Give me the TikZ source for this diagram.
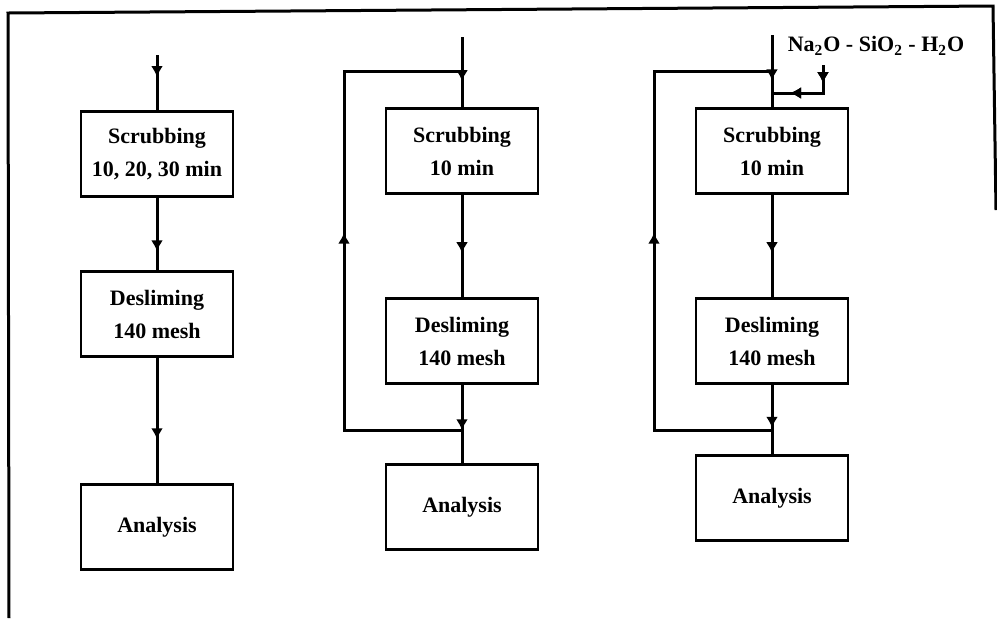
\documentclass[tikz,border=0pt]{standalone}
\usepackage{fontspec}
\setmainfont{Liberation Serif}
\usetikzlibrary{arrows.meta, positioning, decorations.markings}

\begin{document}
\begin{tikzpicture}[
  x=0.5pt, y=-0.5pt,
  every node/.style={font=\bfseries\fontsize{11}{16.5}\selectfont},
  stage/.style={rectangle, draw, line width=1.4pt, minimum width=76pt, minimum height=42.5pt, inner sep=0pt, align=center},
  flow/.style={line width=1.5pt},
  arrowat/.style={postaction={decorate}, decoration={markings, mark=at position #1 with {\arrow{Latex[length=5.5pt,width=6pt]}}}},
]
\useasboundingbox (0,0) rectangle (997,618);

% Frame
\draw[flow] (9,618) -- (8,13) -- (993,6) -- (996,210);

% Column 1
\node[stage] (s1) at (157,154) {Scrubbing\\10, 20, 30 min};
\node[stage] (d1) at (157,314) {Desliming\\140 mesh};
\node[stage] (a1) at (157,527) {Analysis};
\coordinate (f1) at (157,55);
\draw[flow, arrowat=0.4] (f1) -- (s1.north);
\draw[flow, arrowat=0.74] (s1.south) -- (d1.north);
\draw[flow, arrowat=0.65] (d1.south) -- (a1.north);

% Column 2
\node[stage] (s2) at (462,151) {Scrubbing\\10 min};
\node[stage] (d2) at (462,341) {Desliming\\140 mesh};
\node[stage] (a2) at (462,507) {Analysis};
\coordinate (f2) at (462,37);
\coordinate (t2) at (462,71);
\coordinate (j2) at (462,430);
\draw[flow, arrowat=0.63] (f2) -- (s2.north);
\draw[flow, arrowat=0.57] (s2.south) -- (d2.north);
\draw[flow, arrowat=0.58] (d2.south) -- (a2.north);
\draw[flow, arrowat=0.53] (j2) -- (344,430) -- (344,71) -- (t2);

% Column 3
\node[stage] (s3) at (772,151) {Scrubbing\\10 min};
\node[stage] (d3) at (772,341) {Desliming\\140 mesh};
\node[stage] (a3) at (772,498) {Analysis};
\coordinate (f3) at (772,35);
\coordinate (t3) at (772,71);
\coordinate (m3) at (772,93);
\coordinate (j3) at (772,430);
\draw[flow, arrowat=0.63] (f3) -- (s3.north);
\draw[flow, arrowat=0.57] (s3.south) -- (d3.north);
\draw[flow, arrowat=0.62] (d3.south) -- (a3.north);
\draw[flow, arrowat=0.53] (j3) -- (654,430) -- (654,71) -- (t3);

% Reagent feed
\node (silicate) at (876,46) {Na\textsubscript{2}O - SiO\textsubscript{2} - H\textsubscript{2}O};
\coordinate (na) at (823,65);
\draw[flow, arrowat=0.23, arrowat=0.77] (na) -- (823,93) -- (m3);

\end{tikzpicture}
\end{document}
